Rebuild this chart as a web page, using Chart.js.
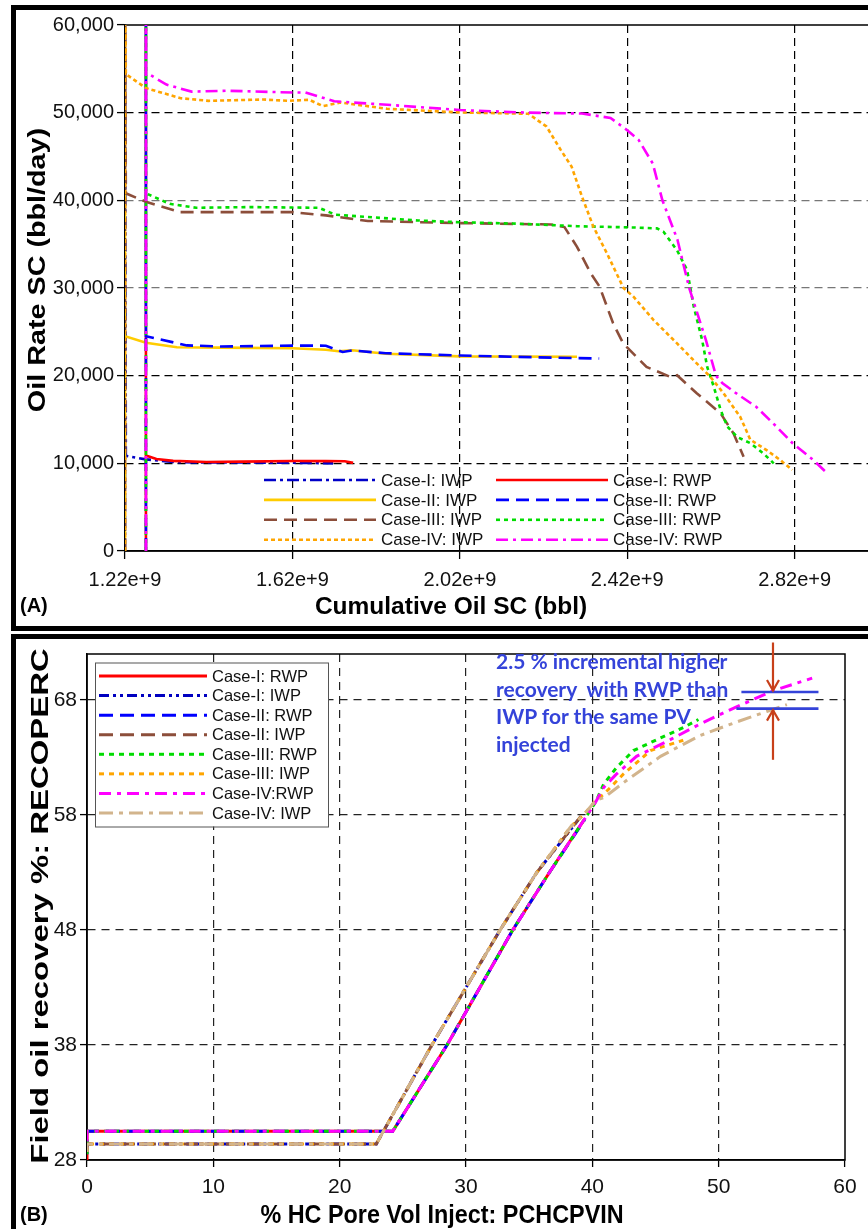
<!DOCTYPE html>
<html><head><meta charset="utf-8">
<script src="https://cdn.jsdelivr.net/npm/chart.js@4.4.1/dist/chart.umd.min.js"></script>
<style>
html,body{margin:0;padding:0;background:#fff;}
#page{position:relative;width:868px;height:1229px;overflow:hidden;background:#fff;}
.frame{position:absolute;border:5px solid #000;box-sizing:border-box;}
canvas{position:absolute;left:0;top:0;}
.t{position:absolute;font-family:"Liberation Sans",Arial,sans-serif;font-weight:bold;color:#000;white-space:nowrap;line-height:1;}
.ctr{transform:translate(-50%,-50%);}
#note{position:absolute;left:496px;top:647px;font-family:Lato,"Open Sans",sans-serif;font-weight:bold;font-size:21px;line-height:27.5px;color:#3443d9;white-space:nowrap;}
</style></head>
<body><div id="page">
<div class="frame" style="left:11px;top:5px;width:900px;height:626px"></div>
<div class="frame" style="left:11px;top:634px;width:900px;height:700px"></div>
<div style="position:absolute;left:0;top:0;width:900px;height:632px"><canvas id="ca" width="900" height="632" style="width:900px;height:632px"></canvas></div>
<div style="position:absolute;left:0;top:632px;width:868px;height:597px"><canvas id="cb" width="868" height="597" style="width:868px;height:597px"></canvas></div>
<div class="t" style="left:37px;top:270px;font-size:23px;transform:translate(-50%,-50%) rotate(-90deg) scaleX(1.25);">Oil Rate SC (bbl/day)</div>
<div class="t ctr" style="left:451px;top:606px;font-size:24.5px;">Cumulative Oil SC (bbl)</div>
<div class="t" style="left:20px;top:595px;font-size:20px;">(A)</div>
<div class="t" style="left:40px;top:906px;font-size:23px;transform:translate(-50%,-50%) rotate(-90deg) scaleX(1.43);">Field oil recovery %: RECOPERC</div>
<div class="t" style="left:442px;top:1214px;font-size:25px;transform:translate(-50%,-50%) scaleX(0.935);">% HC Pore Vol Inject: PCHCPVIN</div>
<div class="t" style="left:20px;top:1204px;font-size:20px;">(B)</div>
<div id="note">2.5 % incremental higher<br>recovery&nbsp; with RWP than<br>IWP for the same PV<br>injected</div>
</div>
<script>
// ---------- Panel A data (x: cumulative oil, bbl ; y: oil rate, bbl/day) ----------
const xTicksA = [1.22e9, 1.62e9, 2.02e9, 2.42e9, 2.82e9];
const yTicksA = [0, 10000, 20000, 30000, 40000, 50000, 60000];
const labelsA = ["Case-I: IWP","Case-I: RWP","Case-II: IWP","Case-II: RWP","Case-III: IWP","Case-III: RWP","Case-IV: IWP","Case-IV: RWP"];

const caseI_IWP_A = [[1.22e9,0],[1.22e9,65000],[1.222e9,10850],[1.27e9,10450],[1.335e9,10150],[1.40e9,10100],[1.50e9,10100],[1.62e9,10070],[1.717e9,10000]];
const caseI_RWP_A = [[1.27e9,0],[1.27e9,65000],[1.27e9,10900],[1.295e9,10500],[1.335e9,10280],[1.415e9,10150],[1.50e9,10200],[1.62e9,10260],[1.70e9,10250],[1.745e9,10240],[1.765e9,10050]];
const caseII_IWP_A = [[1.22e9,0],[1.22e9,65000],[1.22e9,24500],[1.27e9,23750],[1.344e9,23250],[1.45e9,23200],[1.62e9,23130],[1.70e9,22950],[1.73e9,22780],[1.763e9,22900],[1.843e9,22500],[2.02e9,22200],[2.30e9,22150]];
const caseII_RWP_A = [[1.27e9,0],[1.27e9,65000],[1.27e9,24500],[1.368e9,23450],[1.45e9,23330],[1.62e9,23430],[1.70e9,23420],[1.74e9,22700],[1.763e9,22870],[1.843e9,22560],[2.02e9,22300],[2.20e9,22100],[2.353e9,21950]];
const caseIII_IWP_A = [[1.22e9,0],[1.22e9,65000],[1.222e9,40800],[1.272e9,39800],[1.352e9,38650],[1.45e9,38650],[1.62e9,38650],[1.70e9,38280],[1.80e9,37650],[2.02e9,37400],[2.238e9,37250],[2.27e9,36950],[2.30e9,34700],[2.333e9,31650],[2.354e9,30150],[2.386e9,26000],[2.41e9,23700],[2.466e9,21000],[2.521e9,19900],[2.539e9,20050],[2.586e9,18000],[2.643e9,15700],[2.674e9,13400],[2.698e9,10750]];
const caseIII_RWP_A = [[1.27e9,0],[1.27e9,65000],[1.27e9,40800],[1.327e9,39600],[1.39e9,39150],[1.525e9,39230],[1.683e9,39150],[1.723e9,38360],[1.80e9,38100],[1.92e9,37700],[2.02e9,37500],[2.16e9,37330],[2.30e9,37050],[2.437e9,36900],[2.491e9,36800],[2.507e9,36400],[2.539e9,34300],[2.563e9,32050],[2.579e9,27850],[2.599e9,24050],[2.611e9,21000],[2.627e9,18700],[2.643e9,16100],[2.659e9,14200],[2.683e9,13000],[2.714e9,12300],[2.746e9,11100],[2.77e9,10000]];
const caseIV_IWP_A = [[1.22e9,0],[1.22e9,65000],[1.222e9,54400],[1.27e9,52800],[1.353e9,51650],[1.42e9,51350],[1.55e9,51500],[1.61e9,51350],[1.66e9,51470],[1.693e9,50750],[1.735e9,51160],[1.846e9,50440],[2.02e9,50030],[2.184e9,49870],[2.227e9,48420],[2.261e9,45750],[2.287e9,43850],[2.312e9,40400],[2.339e9,37000],[2.371e9,34000],[2.411e9,30000],[2.435e9,29000],[2.483e9,26340],[2.539e9,23680],[2.586e9,21400],[2.618e9,19900],[2.65e9,18000],[2.69e9,15300],[2.714e9,12700],[2.753e9,11500],[2.785e9,10400],[2.814e9,9240]];
const caseIV_RWP_A = [[1.27e9,0],[1.27e9,65000],[1.27e9,54600],[1.319e9,53200],[1.379e9,52400],[1.464e9,52500],[1.62e9,52300],[1.651e9,52300],[1.72e9,51300],[1.847e9,50900],[2.02e9,50300],[2.184e9,50000],[2.312e9,49900],[2.38e9,49400],[2.42e9,48000],[2.447e9,46900],[2.481e9,44200],[2.504e9,40000],[2.54e9,35500],[2.568e9,30000],[2.608e9,24050],[2.632e9,20000],[2.647e9,19150],[2.68e9,18000],[2.728e9,16450],[2.768e9,14600],[2.815e9,12300],[2.864e9,10400],[2.897e9,8900]];

// ---------- Panel B data (x: % HC pore volume injected ; y: field oil recovery %) ----------
const xTicksB = [0, 10, 20, 30, 40, 50, 60];
const yTicksB = [28, 38, 48, 58, 68];
const labelsB = ["Case-I: RWP","Case-I: IWP","Case-II: RWP","Case-II: IWP","Case-III: RWP","Case-III: IWP","Case-IV:RWP","Case-IV: IWP"];

const caseI_RWP_B = [[0,28],[0,30.5],[24.2,30.5],[28.5,38],[33.7,48],[36.6,53],[39.3,57.5]];
const caseI_IWP_B = [[0,28.9],[0,29.4],[22.9,29.4],[27.3,38],[32.7,48],[35.6,53],[38.9,57.6]];
const caseII_RWP_B = [[0,28.5],[0,30.5],[24.2,30.5],[28.5,38],[33.7,48],[36.6,53],[39.4,57.6]];
const caseII_IWP_B = [[0,28.7],[0,29.4],[22.9,29.4],[27.3,38],[32.7,48],[35.6,53],[39.1,57.9]];
const caseIII_RWP_B = [[0,28.5],[0,30.5],[24.2,30.5],[28.5,38],[33.7,48],[36.6,53],[39.6,58],[40.3,59.2],[40.9,60.7],[41.9,62.1],[43.25,63.6],[45.4,64.7],[47.2,65.6],[48.4,66.3]];
const caseIII_IWP_B = [[0,28.7],[0,29.4],[22.9,29.4],[27.3,38],[32.7,48],[35.6,53],[38.3,57],[39.3,58],[40.3,59.3],[40.9,59.8],[42.45,61.55],[44.6,63.6],[47.2,64.5]];
const caseIV_RWP_B = [[0,29.6],[0,30.5],[24.2,30.5],[28.5,38],[33.7,48],[36.6,53],[39.6,58],[40.3,59.2],[40.9,60.4],[41.9,61.55],[43.5,63.1],[45.9,64.4],[48.5,65.9],[51.2,67.3],[54.3,68.8],[57.4,69.9]];
const caseIV_IWP_B = [[0,28.7],[0,29.4],[22.9,29.4],[27.3,38],[32.7,48],[35.6,53],[38.3,57],[39.3,58],[40.3,59.3],[40.9,59.5],[42.7,61.0],[45.4,63.1],[48.5,64.9],[51.2,66.0],[53.8,67.0],[55.4,67.6]];

// annotation levels on panel B (recovery %) and PV injected where the marks sit
const markLevels = [68.7, 67.25];
const markXStart = [51.8, 51.4];
const markXEnd = 57.9;
const arrowX = 54.3;
const arrowTail = [73, 62.8];

// ---------- styles ----------
const stylesA = [
  {c:'#0000c8', d:[12,4,3,4], w:2.6},
  {c:'#ff0000', d:[], w:2.6},
  {c:'#ffcc00', d:[], w:2.6},
  {c:'#0000ff', d:[13,7], w:2.6},
  {c:'#8c4e3a', d:[13,7], w:2.6},
  {c:'#00dd00', d:[4,4], w:2.6},
  {c:'#ffa500', d:[4,3], w:2.6},
  {c:'#ff00ff', d:[12,5,3,5], w:2.6}
];
const stylesB = [
  {c:'#ff0000', d:[], w:3},
  {c:'#0000c0', d:[10,4,3,4,3,4], w:3},
  {c:'#0000ff', d:[14,7], w:3},
  {c:'#8c4e3a', d:[14,7], w:3},
  {c:'#00dd00', d:[5,5], w:3},
  {c:'#ffa500', d:[5,5], w:3},
  {c:'#ff00ff', d:[12,6,4,6], w:3},
  {c:'#d2b48c', d:[14,6,4,6], w:3}
];
const seriesA = [caseI_IWP_A, caseI_RWP_A, caseII_IWP_A, caseII_RWP_A, caseIII_IWP_A, caseIII_RWP_A, caseIV_IWP_A, caseIV_RWP_A];
const seriesB = [caseI_RWP_B, caseI_IWP_B, caseII_RWP_B, caseII_IWP_B, caseIII_RWP_B, caseIII_IWP_B, caseIV_RWP_B, caseIV_IWP_B];

function mkSets(series, labels, styles){
  return series.map((s,i)=>({
    label: labels[i],
    data: s.map(p=>({x:p[0], y:p[1]})),
    borderColor: styles[i].c,
    borderDash: styles[i].d,
    borderWidth: styles[i].w,
    pointRadius: 0,
    tension: 0,
    fill: false,
    order: -i
  }));
}

const frame = {
  id:'frame',
  beforeDatasetsDraw(chart, args, opts){
    const {ctx, chartArea:a} = chart;
    ctx.save(); ctx.strokeStyle='#000'; ctx.lineWidth=opts.w||1.5;
    ctx.strokeRect(a.left, a.top, a.right-a.left, a.bottom-a.top);
    ctx.restore();
  }
};

const legendDraw = {
  id:'legendDraw',
  afterDatasetsDraw(chart, args, o){
    const ctx = chart.ctx; ctx.save();
    if (o.box){
      ctx.fillStyle='#fff'; ctx.fillRect(o.box[0],o.box[1],o.box[2],o.box[3]);
      ctx.strokeStyle='#555'; ctx.lineWidth=1; ctx.strokeRect(o.box[0]+.5,o.box[1]+.5,o.box[2],o.box[3]);
    }
    ctx.font = o.font; ctx.fillStyle='#111'; ctx.textBaseline='middle';
    chart.data.datasets.forEach((ds,i)=>{
      const col = i % o.cols, row = Math.floor(i / o.cols);
      const x = o.x + col*o.colW, y = o.y + row*o.rowH;
      ctx.beginPath(); ctx.setLineDash(ds.borderDash); ctx.lineDashOffset = 0;
      ctx.strokeStyle = ds.borderColor; ctx.lineWidth = ds.borderWidth;
      ctx.moveTo(x, y); ctx.lineTo(x + o.lineW, y); ctx.stroke();
      ctx.setLineDash([]);
      ctx.fillText(ds.label, x + o.lineW + o.gap, y + 1);
    });
    ctx.restore();
  }
};

const marks = {
  id:'marks',
  afterDatasetsDraw(chart){
    const {ctx, scales:{x, y}} = chart;
    ctx.save();
    ctx.strokeStyle='#3443d9'; ctx.lineWidth=2.6;
    markLevels.forEach((lv,i)=>{
      ctx.beginPath(); ctx.moveTo(x.getPixelForValue(markXStart[i]), y.getPixelForValue(lv));
      ctx.lineTo(x.getPixelForValue(markXEnd), y.getPixelForValue(lv)); ctx.stroke();
    });
    ctx.strokeStyle='#c8401a'; ctx.lineWidth=2.2;
    const ax = x.getPixelForValue(arrowX);
    markLevels.forEach((lv,i)=>{
      const ty = y.getPixelForValue(lv), fy = y.getPixelForValue(arrowTail[i]);
      const dir = fy < ty ? 1 : -1;
      ctx.beginPath(); ctx.moveTo(ax, fy); ctx.lineTo(ax, ty - dir*1.5); ctx.stroke();
      ctx.beginPath(); ctx.moveTo(ax-6, ty - dir*12); ctx.lineTo(ax, ty - dir*1.5); ctx.lineTo(ax+6, ty - dir*12); ctx.stroke();
    });
    ctx.restore();
  }
};

Chart.defaults.font.family = '"Liberation Sans", Arial, sans-serif';
Chart.defaults.color = '#000';
Chart.defaults.animation = false;

new Chart(document.getElementById('ca'), {
  type:'line',
  data:{datasets: mkSets(seriesA, labelsA, stylesA)},
  options:{
    responsive:false, animation:false, parsing:true,
    layout:{padding:{left:0, top:25, right:30, bottom:0}},
    plugins:{legend:{display:false}, tooltip:{enabled:false},
      legendDraw:{x:264, y:480, cols:2, colW:232, rowH:19.9, lineW:112, gap:5, font:'17px "Liberation Sans", Arial, sans-serif'},
      frame:{w:1.5}},
    scales:{
      x:{type:'linear', min:1.22e9, max:3.0e9,
        afterBuildTicks(s){ s.ticks = xTicksA.map(v=>({value:v})); },
        afterFit(s){ s.height = 81; },
        ticks:{callback:v=>(v/1e9).toFixed(2)+'e+9', font:{size:20}, color:'#111', padding:9, maxRotation:0, autoSkip:false},
        grid:{color:c=> (c.tick && c.tick.value===1.22e9) ? 'rgba(0,0,0,0)' : '#000', lineWidth:1.2, tickLength:8, tickColor:'#000', tickWidth:1.3},
        border:{display:true, color:'#000', width:1.5, dash:[8,5]}
      },
      y:{type:'linear', min:0, max:60000,
        afterBuildTicks(s){ s.ticks = yTicksA.map(v=>({value:v})); },
        afterFit(s){ s.width = 125; },
        ticks:{callback:v=>v.toLocaleString('en-US'), font:{size:20}, color:'#111', padding:3},
        grid:{color:c=>{const v=c.tick?c.tick.value:null; if(v===0||v===60000) return 'rgba(0,0,0,0)'; return (v===30000||v===40000)?'#777':'#000';}, lineWidth:1.2, tickLength:8, tickColor:'#000', tickWidth:1.3},
        border:{display:true, color:'#000', width:1.5, dash:[8,5]}
      }
    }
  },
  plugins:[frame, legendDraw]
});

new Chart(document.getElementById('cb'), {
  type:'line',
  data:{datasets: mkSets(seriesB, labelsB, stylesB)},
  options:{
    responsive:false, animation:false,
    layout:{padding:{left:0, top:22, right:23, bottom:0}},
    plugins:{legend:{display:false}, tooltip:{enabled:false},
      legendDraw:{x:99, y:44, cols:1, colW:0, rowH:19.57, lineW:108, gap:5, font:'16.5px "Liberation Sans", Arial, sans-serif', box:[95,30.5,233,164]},
      frame:{w:1.5}},
    scales:{
      x:{type:'linear', min:0, max:60,
        afterBuildTicks(s){ s.ticks = xTicksB.map(v=>({value:v})); },
        afterFit(s){ s.height = 69; },
        ticks:{font:{size:21}, color:'#111', padding:8, maxRotation:0, autoSkip:false},
        grid:{color:c=>{const v=c.tick?c.tick.value:null; return (v===0||v===60)?'rgba(0,0,0,0)':'#222';}, lineWidth:1.2, tickLength:7, tickColor:'#000', tickWidth:1.3},
        border:{display:true, color:'#000', width:1.5, dash:[8,6]}
      },
      y:{type:'linear', min:28, max:72,
        afterBuildTicks(s){ s.ticks = yTicksB.map(v=>({value:v})); },
        afterFit(s){ s.width = 87; },
        ticks:{font:{size:21}, color:'#111', padding:3},
        grid:{color:c=>{const v=c.tick?c.tick.value:null; return (v===28)?'rgba(0,0,0,0)':'#222';}, lineWidth:1.2, tickLength:7, tickColor:'#000', tickWidth:1.3},
        border:{display:true, color:'#000', width:1.5, dash:[8,6]}
      }
    }
  },
  plugins:[frame, legendDraw, marks]
});
</script>
</body></html>
